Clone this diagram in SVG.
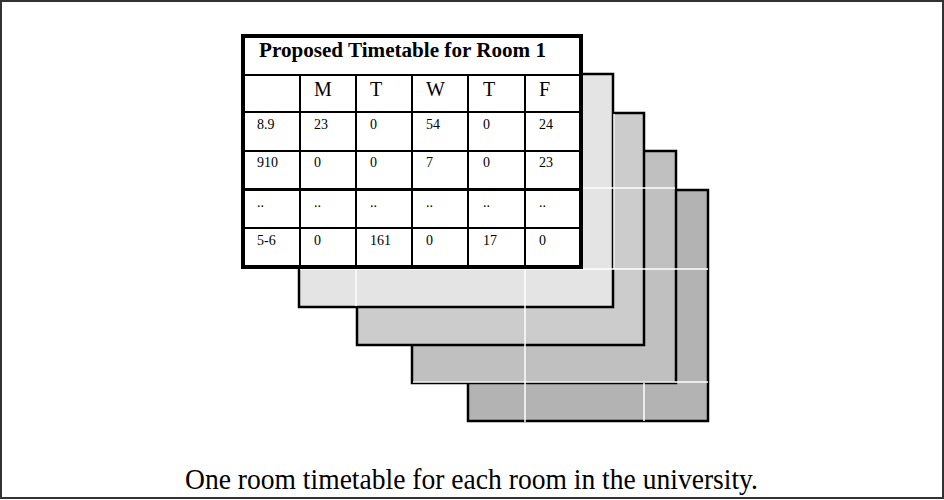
<svg xmlns="http://www.w3.org/2000/svg" width="944" height="500" viewBox="0 0 944 500">
<style>
.frame{fill:#fff;stroke:#333;stroke-width:2}
.layer{stroke:#000;stroke-width:2.5}
.wl{stroke:#fff;stroke-width:1.5;fill:none}
.grid{stroke:#000;stroke-width:2;fill:none}
.thick{stroke:#000;stroke-width:4;fill:none}
.t{font-family:"Liberation Serif","Times New Roman",serif;fill:#000}
.title{font-size:20px;font-weight:bold}
.hd{font-size:20px}
.c{font-size:14px}
.cap{font-size:29px}
</style>
<rect class="frame" x="1" y="1" width="942" height="497"/>
<g id="layer4"><rect class="layer" x="468" y="190" width="240" height="231" fill="#b3b3b3"/></g>
<g id="layer3"><rect class="layer" x="412" y="151" width="264" height="232" fill="#c0c0c0"/></g>
<g id="layer2"><rect class="layer" x="357" y="113" width="287" height="232" fill="#cccccc"/></g>
<g id="layer1"><rect class="layer" x="299" y="74" width="314" height="233" fill="#e4e4e4"/></g>
<g id="hidden-grid">
<line class="wl" x1="583" y1="188" x2="675" y2="188"/>
<line class="wl" x1="300" y1="269" x2="708" y2="269"/>
<line class="wl" x1="413" y1="382" x2="708" y2="382"/>
<line class="wl" x1="356" y1="269" x2="356" y2="306"/>
<line class="wl" x1="525" y1="269" x2="525" y2="422"/>
<line class="wl" x1="614" y1="114" x2="614" y2="269"/>
<line class="wl" x1="644" y1="383" x2="644" y2="421"/>
</g>
<g id="timetable">
<rect x="243" y="36" width="338" height="231" fill="#fff"/>
<line class="grid" x1="243" y1="75" x2="581" y2="75"/>
<line class="grid" x1="243" y1="112" x2="581" y2="112"/>
<line class="grid" x1="243" y1="151" x2="581" y2="151"/>
<line class="grid" x1="243" y1="189.5" x2="581" y2="189.5" style="stroke-width:3"/>
<line class="grid" x1="243" y1="228" x2="581" y2="228"/>
<line class="grid" x1="300" y1="75" x2="300" y2="267"/>
<line class="grid" x1="356" y1="75" x2="356" y2="267"/>
<line class="grid" x1="412" y1="75" x2="412" y2="267"/>
<line class="grid" x1="468" y1="75" x2="468" y2="267"/>
<line class="grid" x1="525" y1="75" x2="525" y2="267"/>
<rect class="thick" x="243" y="36" width="338" height="231"/>
<text class="t title" x="259" y="57" textLength="287" lengthAdjust="spacingAndGlyphs">Proposed Timetable for Room 1</text>
<g class="t hd">
<text x="314" y="96">M</text><text x="370" y="96">T</text><text x="426" y="96">W</text><text x="483" y="96">T</text><text x="539" y="96">F</text>
</g>
<g class="t c">
<text x="257" y="129">8.9</text><text x="314" y="129">23</text><text x="370" y="129">0</text><text x="426" y="129">54</text><text x="483" y="129">0</text><text x="539" y="129">24</text>
<text x="257" y="167">910</text><text x="314" y="167">0</text><text x="370" y="167">0</text><text x="426" y="167">7</text><text x="483" y="167">0</text><text x="539" y="167">23</text>
<text x="257" y="207">..</text><text x="314" y="207">..</text><text x="370" y="207">..</text><text x="426" y="207">..</text><text x="483" y="207">..</text><text x="539" y="207">..</text>
<text x="257" y="245">5-6</text><text x="314" y="245">0</text><text x="370" y="245">161</text><text x="426" y="245">0</text><text x="483" y="245">17</text><text x="539" y="245">0</text>
</g>
</g>
<text class="t cap" x="185" y="489" textLength="573" lengthAdjust="spacingAndGlyphs">One room timetable for each room in the university.</text>
</svg>
